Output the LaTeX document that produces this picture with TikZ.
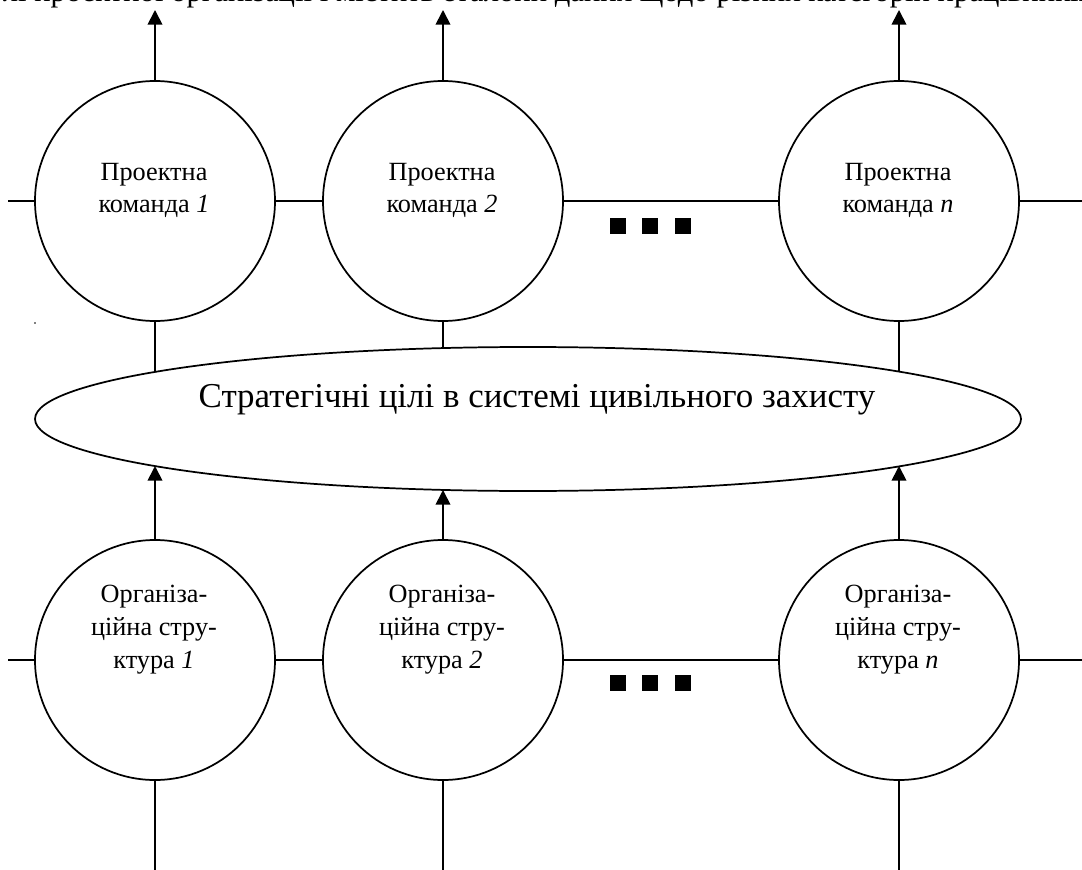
\documentclass[tikz,border=0pt]{standalone}
\usepackage{fontspec}
\setmainfont{Liberation Serif}
\usetikzlibrary{shapes.geometric,arrows.meta}
\tikzset{
  circ/.style={circle,draw,line width=1.3pt,minimum size=180pt,inner sep=0pt,fill=white},
  lab/.style={align=center,inner sep=0pt,font=\fontsize{19.7}{24.6}\selectfont},
  link/.style={line width=1.3pt},
  arrowlink/.style={link,-{Triangle[length=11pt,width=11pt]}},
  sq/.style={fill=black,draw=none,minimum size=12pt,inner sep=0pt}
}
\begin{document}
\begin{tikzpicture}[x=0.75pt,y=-0.75pt]
\useasboundingbox (0,0) rectangle (1082,870);
\node[anchor=base,font=\fontsize{23}{26}\selectfont,inner sep=0pt] (title) at (548,2) {лі проектної організації і містить еталони даних щодо різних категорій працівників};
\coordinate (dot) at (35,323);
\fill (dot) circle (0.6pt);
\node[circ] (p1) at (155,201) {};
\node[circ] (p2) at (443,201) {};
\node[circ] (p3) at (899,201) {};
\node[circ] (o1) at (155,660) {};
\node[circ] (o2) at (443,660) {};
\node[circ] (o3) at (899,660) {};
\node[lab,anchor=base] (pt1) at (154,213) {Проектна\\команда \textit{1}};
\node[lab,anchor=base] (pt2) at (442,213) {Проектна\\команда \textit{2}};
\node[lab,anchor=base] (pt3) at (898,213) {Проектна\\команда \textit{n}};
\node[lab,anchor=base] (ot1) at (154,668) {Організа-\\ційна стру-\\ктура \textit{1}};
\node[lab,anchor=base] (ot2) at (442,668) {Організа-\\ційна стру-\\ктура \textit{2}};
\node[lab,anchor=base] (ot3) at (898,668) {Організа-\\ційна стру-\\ктура \textit{n}};
\foreach \n in {p1,p2,p3}{
  \draw[link] (\n.south) -- (\n |- 528,419);
}
\node[ellipse,draw,line width=1.3pt,fill=white,minimum width=739.5pt,minimum height=108pt,inner sep=0pt] (goal) at (528,419) {};
\node[anchor=base,inner sep=0pt,font=\fontsize{26.2}{30}\selectfont] (goaltext) at (537,407) {Стратегічні цілі в системі цивільного захисту};
% arrow ends
\coordinate (t1) at (155,10); \coordinate (t2) at (443,10); \coordinate (t3) at (899,10);
\coordinate (g1) at (155,466); \coordinate (g2) at (443,490); \coordinate (g3) at (899,466);
\coordinate (b1) at (155,870); \coordinate (b2) at (443,870); \coordinate (b3) at (899,870);
\draw[arrowlink] (p1.north) -- (t1);
\draw[arrowlink] (p2.north) -- (t2);
\draw[arrowlink] (p3.north) -- (t3);
\draw[arrowlink] (o1.north) -- (g1);
\draw[arrowlink] (o2.north) -- (g2);
\draw[arrowlink] (o3.north) -- (g3);
\draw[link] (o1.south) -- (b1);
\draw[link] (o2.south) -- (b2);
\draw[link] (o3.south) -- (b3);
% horizontals
\coordinate (la) at (8,201); \coordinate (ra) at (1082,201);
\coordinate (lb) at (8,660); \coordinate (rb) at (1082,660);
\draw[link] (la) -- (p1.west);
\draw[link] (p1.east) -- (p2.west);
\draw[link] (p2.east) -- (p3.west);
\draw[link] (p3.east) -- (ra);
\draw[link] (lb) -- (o1.west);
\draw[link] (o1.east) -- (o2.west);
\draw[link] (o2.east) -- (o3.west);
\draw[link] (o3.east) -- (rb);
% squares
\foreach \x/\m in {618/a,650/b,683/c}{
  \node[sq] (s\m) at (\x,226) {};
  \node[sq] (u\m) at (\x,683) {};
}
\end{tikzpicture}
\end{document}
